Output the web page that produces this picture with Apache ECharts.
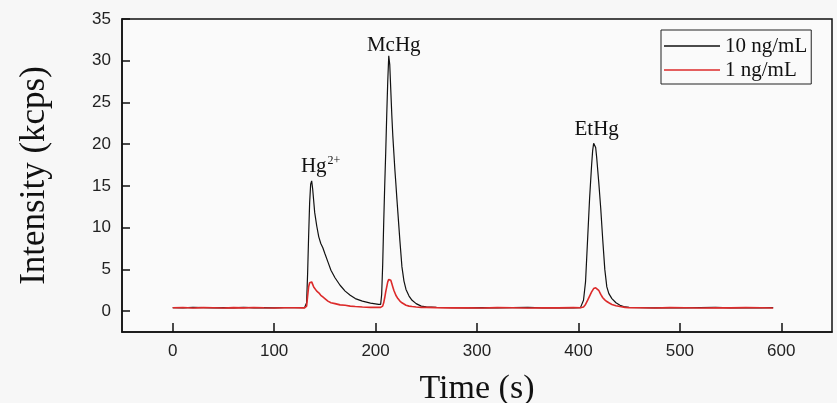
<!DOCTYPE html>
<html>
<head>
<meta charset="utf-8">
<script src="https://cdn.jsdelivr.net/npm/echarts@6/dist/echarts.min.js"></script>
<style>
	html, body { margin: 0; padding: 0; background: #f7f7f7; }
	#chart { width: 837px; height: 403px; }
</style>
</head>
<body>
<div id="chart"></div>
<script>
	/* data */
	var times = [
		0, 10, 20, 30, 40, 50, 60, 70, 80, 90, 100, 110, 120, 130,
		131, 132, 133, 134, 135, 136, 137, 138, 139, 140, 142, 144, 146, 148, 150, 153, 156, 160, 165, 170, 175, 180, 187, 195, 203, 205,
		206, 207, 208, 209, 210, 211, 212, 213, 214, 215, 216, 217, 218, 219, 220, 221, 222, 224, 226, 228, 230, 233, 236, 240, 245, 250,
		260, 275, 290, 305, 320, 335, 350, 365, 380, 395, 402,
		403, 405, 407, 409, 411, 413, 414, 415, 416, 417, 418, 420, 422, 424, 426, 428, 430, 433, 437, 441, 446, 450,
		460, 475, 490, 505, 520, 535, 550, 565, 580, 592
	];
	var conc10 = [
		0.42, 0.40, 0.45, 0.41, 0.38, 0.43, 0.40, 0.44, 0.39, 0.42, 0.40, 0.43, 0.41, 0.42,
		0.5, 1.0, 4.5, 9.0, 13.0, 15.2, 15.6, 14.6, 13.2, 11.8, 10.2, 8.9, 8.1, 7.6, 6.9, 5.9, 4.9, 4.0, 3.1, 2.4, 1.9, 1.5, 1.2, 0.95, 0.8, 0.8,
		2.0, 5.5, 10.5, 15, 19, 23.5, 27.5, 30.6, 29.5, 26.5, 23.5, 21, 19, 17, 15.3, 13.5, 11.8, 8.4, 5.3, 3.6, 2.6, 1.8, 1.3, 0.9, 0.6, 0.5,
		0.45, 0.42, 0.40, 0.43, 0.39, 0.41, 0.44, 0.40, 0.42, 0.39, 0.42,
		0.5, 1.3, 3.5, 8.5, 13.5, 17.5, 19.2, 20.1, 20.2, 19.6, 18.4, 15.5, 12.3, 8.5, 5.0, 2.9, 2.1, 1.5, 1.0, 0.7, 0.5, 0.45,
		0.42, 0.40, 0.43, 0.39, 0.41, 0.44, 0.40, 0.42, 0.39, 0.41
	];
	var conc1 = [
		0.40, 0.43, 0.38, 0.42, 0.40, 0.37, 0.42, 0.39, 0.43, 0.40, 0.38, 0.41, 0.40, 0.39,
		0.4, 0.6, 1.8, 2.9, 3.4, 3.6, 3.5, 3.2, 2.9, 2.7, 2.4, 2.2, 1.9, 1.7, 1.5, 1.2, 1.0, 0.9, 0.75, 0.7, 0.6, 0.55, 0.5, 0.45, 0.45, 0.45,
		0.45, 0.6, 1.0, 1.6, 2.3, 2.9, 3.5, 3.8, 3.9, 3.7, 3.3, 2.9, 2.5, 2.2, 1.9, 1.7, 1.5, 1.2, 1.0, 0.85, 0.7, 0.6, 0.55, 0.5, 0.45, 0.45,
		0.42, 0.39, 0.41, 0.38, 0.42, 0.40, 0.37, 0.41, 0.39, 0.42, 0.40,
		0.4, 0.5, 0.8, 1.3, 1.8, 2.3, 2.5, 2.7, 2.75, 2.8, 2.75, 2.5, 2.0, 1.6, 1.35, 1.15, 1.0, 0.8, 0.65, 0.55, 0.45, 0.4,
		0.40, 0.38, 0.42, 0.40, 0.37, 0.41, 0.39, 0.42, 0.40, 0.38
	];
	var xTicks = [0, 100, 200, 300, 400, 500, 600];
	var yTicks = [0, 5, 10, 15, 20, 25, 30, 35];
	var peaks = [
		{ name: 'Hg', sup: '2+', t: 137, v: 15.6 },
		{ name: 'McHg', sup: '', t: 213, v: 30.6 },
		{ name: 'EtHg', sup: '', t: 416, v: 20.2 }
	];

	function pairs(vals) {
		return times.map(function(t, i) { return [t, vals[i]]; });
	}

	var serif = 'Liberation Serif';
	var sans = 'Liberation Sans';
	var labelOffsets = [[9, 2], [5, 0], [2, 3]];

	var chart = echarts.init(document.getElementById('chart'));
	var option = {
		backgroundColor: '#f7f7f7',
		animation: false,
		grid: {
			left: 122,
			top: 19,
			right: 5,
			bottom: 71,
			outerBoundsMode: 'none',
			show: true,
			backgroundColor: '#fafafa',
			borderColor: '#111',
			borderWidth: 1.5
		},
		legend: {
			orient: 'vertical',
			left: 661,
			top: 30,
			padding: [5, 4, 3, 3],
			itemGap: 2,
			itemWidth: 56,
			itemHeight: 1.5,
			icon: 'rect',
			backgroundColor: '#fafafa',
			borderColor: '#222',
			borderWidth: 1,
			borderRadius: 0,
			textStyle: { fontFamily: serif, fontSize: 21, color: '#111', lineHeight: 22 },
			data: ['10 ng/mL', '1 ng/mL']
		},
		xAxis: {
			type: 'value',
			min: -50,
			max: 650,
			name: 'Time (s)',
			nameLocation: 'middle',
			nameGap: 40,
			nameTextStyle: { fontFamily: serif, fontSize: 34, color: '#111' },
			splitLine: { show: false },
			axisLine: { onZero: false, lineStyle: { color: '#111', width: 1.5 } },
			axisTick: { inside: true, length: 9, lineStyle: { color: '#111', width: 1.5 }, customValues: xTicks },
			axisLabel: { fontFamily: sans, fontSize: 17, color: '#222', margin: 11, customValues: xTicks }
		},
		yAxis: {
			type: 'value',
			min: -2.5,
			max: 35,
			name: 'Intensity (kcps)',
			nameLocation: 'middle',
			nameGap: 70,
			nameTextStyle: { fontFamily: serif, fontSize: 35, color: '#111' },
			splitLine: { show: false },
			axisLine: { show: true, onZero: false, lineStyle: { color: '#111', width: 1.5 } },
			axisTick: { show: true, inside: true, length: 8, lineStyle: { color: '#111', width: 1.5 }, customValues: yTicks },
			axisLabel: { fontFamily: sans, fontSize: 17, color: '#222', margin: 11, customValues: yTicks }
		},
		series: [
			{
				name: '10 ng/mL',
				type: 'line',
				symbol: 'none',
				data: pairs(conc10),
				lineStyle: { color: '#111', width: 1.2 },
				itemStyle: { color: '#111' },
				z: 2,
				markPoint: {
					symbolSize: 0,
					data: peaks.map(function(p, i) {
						return {
							coord: [p.t, p.v],
							label: {
								show: true,
								position: 'top',
								offset: [labelOffsets[i][0], 0],
								distance: labelOffsets[i][1],
								formatter: p.sup ? '{a|' + p.name + '}{b|' + p.sup + '}' : '{a|' + p.name + '}',
								rich: {
									a: { fontFamily: serif, fontSize: 21, color: '#111' },
									b: { fontFamily: serif, fontSize: 12, color: '#111', padding: [0, 0, 12, 1] }
								}
							}
						};
					})
				}
			},
			{
				name: '1 ng/mL',
				type: 'line',
				symbol: 'none',
				data: pairs(conc1),
				lineStyle: { color: '#dc2a2a', width: 1.6 },
				itemStyle: { color: '#dc2a2a' },
				z: 3
			}
		]
	};
	chart.setOption(option);
	window.addEventListener('resize', function() {
		chart.resize();
	});
</script>
</body>
</html>
